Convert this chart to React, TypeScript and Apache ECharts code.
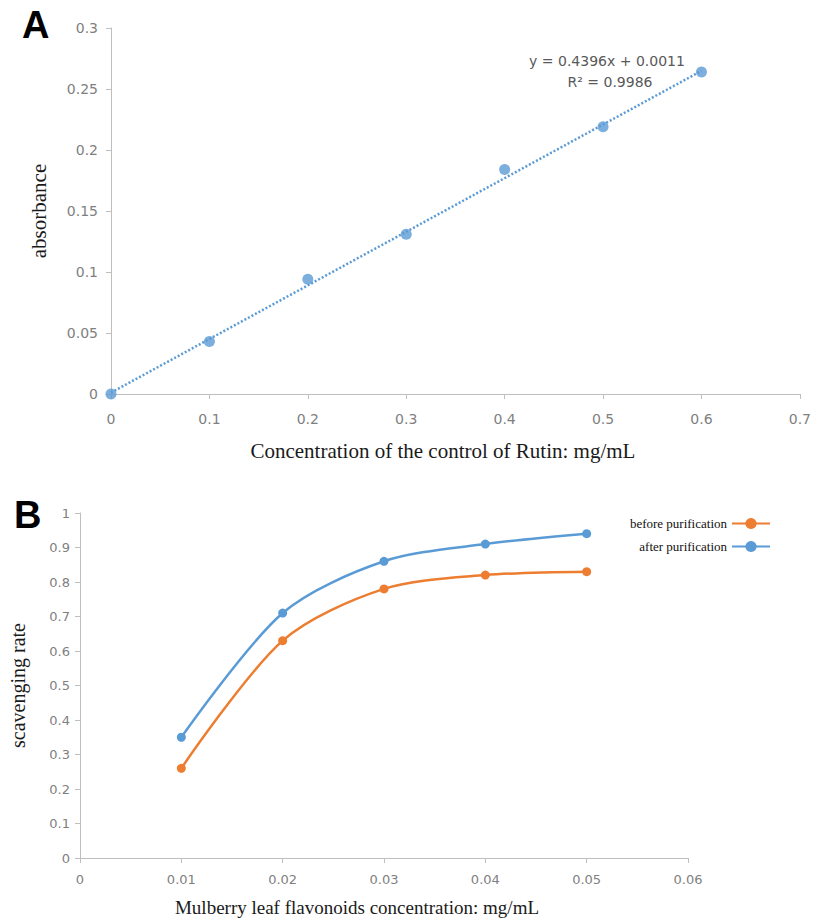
import React, { useEffect, useRef } from "react";
import * as echarts from "echarts";

// Panel A: Rutin standard curve
const rutinConc = [0, 0.1, 0.2, 0.3, 0.4, 0.5, 0.6];
const absorbance = [0, 0.043, 0.094, 0.131, 0.184, 0.219, 0.264];
const trendSlope = 0.4396;
const trendIntercept = 0.0011;
const trendLabel = ["y = 0.4396x + 0.0011", "R² = 0.9986"];

// Panel B: scavenging rate
const flavConc = [0.01, 0.02, 0.03, 0.04, 0.05];
const beforePurification = [0.26, 0.63, 0.78, 0.82, 0.83];
const afterPurification = [0.35, 0.71, 0.86, 0.91, 0.94];
const seriesNames = ["before purification", "after purification"];

const BLUE = "#5B9BD5";
const ORANGE = "#ED7D31";
const AXIS = "#bfbfbf";
const TICK_TEXT = "#7f7f7f";
const SERIF = "'Liberation Serif', 'DejaVu Serif', serif";
const SANS = "'DejaVu Sans', sans-serif";

export default function App() {
  const ref = useRef<HTMLDivElement>(null);

  useEffect(() => {
    document.body.style.margin = "0";
    if (!ref.current) return;
    const chart = echarts.init(ref.current, undefined, { renderer: "svg" });

    const trendX = [rutinConc[0], rutinConc[rutinConc.length - 1]];
    const trendData = trendX.map((x) => [x, trendSlope * x + trendIntercept]);

    const axisCommon = {
      axisLine: { show: true, lineStyle: { color: AXIS, width: 1 } },
      axisTick: { show: true, inside: false, length: 5, lineStyle: { color: AXIS } },
      splitLine: { show: false },
    };

    const option: any = {
      animation: false,
      backgroundColor: "#ffffff",
      grid: [
        { left: 111, top: 28, width: 693, height: 366, containLabel: false },
        { left: 80, top: 513, width: 608, height: 345, containLabel: false },
      ],
      xAxis: [
        {
          type: "value",
          gridIndex: 0,
          min: 0,
          max: 0.7,
          interval: 0.1,
          ...axisCommon,
          axisLabel: { color: TICK_TEXT, fontFamily: SANS, fontSize: 14, margin: 18 },
          name: "Concentration of the control of Rutin: mg/mL",
          nameLocation: "middle",
          nameGap: 46,
          nameTextStyle: { color: "#1a1a1a", fontFamily: SERIF, fontSize: 21, padding: [0, 25, 0, 0] },
        },
        {
          type: "value",
          gridIndex: 1,
          min: 0,
          max: 0.06,
          interval: 0.01,
          ...axisCommon,
          axisLabel: { color: TICK_TEXT, fontFamily: SANS, fontSize: 13, margin: 15 },
          name: "Mulberry leaf flavonoids concentration: mg/mL",
          nameLocation: "middle",
          nameGap: 40,
          nameTextStyle: { color: "#1a1a1a", fontFamily: SERIF, fontSize: 19, padding: [0, 54, 0, 0] },
        },
      ],
      yAxis: [
        {
          type: "value",
          gridIndex: 0,
          min: 0,
          max: 0.3,
          interval: 0.05,
          ...axisCommon,
          axisLabel: { color: TICK_TEXT, fontFamily: SANS, fontSize: 14, margin: 13 },
          name: "absorbance",
          nameLocation: "middle",
          nameGap: 62,
          nameTextStyle: { color: "#1a1a1a", fontFamily: SERIF, fontSize: 21 },
        },
        {
          type: "value",
          gridIndex: 1,
          min: 0,
          max: 1,
          interval: 0.1,
          ...axisCommon,
          axisLabel: { color: TICK_TEXT, fontFamily: SANS, fontSize: 13, margin: 10 },
          name: "scavenging rate",
          nameLocation: "middle",
          nameGap: 52,
          nameTextStyle: { color: "#1a1a1a", fontFamily: SERIF, fontSize: 20 },
        },
      ],
      legend: {
        data: seriesNames,
        orient: "vertical",
        right: 38,
        top: 512,
        align: "right",
        itemWidth: 38,
        itemHeight: 14,
        itemGap: 10,
        textStyle: { color: "#111", fontFamily: SERIF, fontSize: 13 },
      },
      series: [
        {
          type: "line",
          name: "trend",
          xAxisIndex: 0,
          yAxisIndex: 0,
          data: trendData,
          showSymbol: false,
          symbol: "none",
          lineStyle: { color: BLUE, width: 2.5, type: [2, 2] },
          silent: true,
          z: 1,
        },
        {
          type: "scatter",
          name: "absorbance",
          xAxisIndex: 0,
          yAxisIndex: 0,
          data: rutinConc.map((x, i) => [x, absorbance[i]]),
          symbol: "circle",
          symbolSize: 11,
          itemStyle: { color: BLUE },
          z: 3,
        },
        {
          type: "line",
          name: seriesNames[0],
          xAxisIndex: 1,
          yAxisIndex: 1,
          data: flavConc.map((x, i) => [x, beforePurification[i]]),
          smooth: 0.3,
          symbol: "circle",
          symbolSize: 9,
          lineStyle: { color: ORANGE, width: 2.5 },
          itemStyle: { color: ORANGE },
        },
        {
          type: "line",
          name: seriesNames[1],
          xAxisIndex: 1,
          yAxisIndex: 1,
          data: flavConc.map((x, i) => [x, afterPurification[i]]),
          smooth: 0.3,
          symbol: "circle",
          symbolSize: 9,
          lineStyle: { color: BLUE, width: 2.5 },
          itemStyle: { color: BLUE },
        },
      ],
      graphic: [
        {
          type: "text",
          left: 22,
          top: 6,
          style: { text: "A", fontFamily: "'Liberation Sans', Arial, sans-serif", fontWeight: "bold", fontSize: 38, fill: "#000" },
        },
        {
          type: "text",
          left: 14,
          top: 496,
          style: { text: "B", fontFamily: "'Liberation Sans', Arial, sans-serif", fontWeight: "bold", fontSize: 38, fill: "#000" },
        },
        {
          type: "text",
          x: 607,
          y: 61,
          style: { text: trendLabel[0], fontFamily: SANS, fontSize: 14, fill: "#595959", textAlign: "center", textVerticalAlign: "middle" },
        },
        {
          type: "text",
          x: 610,
          y: 82,
          style: { text: trendLabel[1], fontFamily: SANS, fontSize: 14, fill: "#595959", textAlign: "center", textVerticalAlign: "middle" },
        },
      ],
    };

    chart.setOption(option);
    return () => chart.dispose();
  }, []);

  return <div ref={ref} style={{ width: 814, height: 918 }} />;
}
